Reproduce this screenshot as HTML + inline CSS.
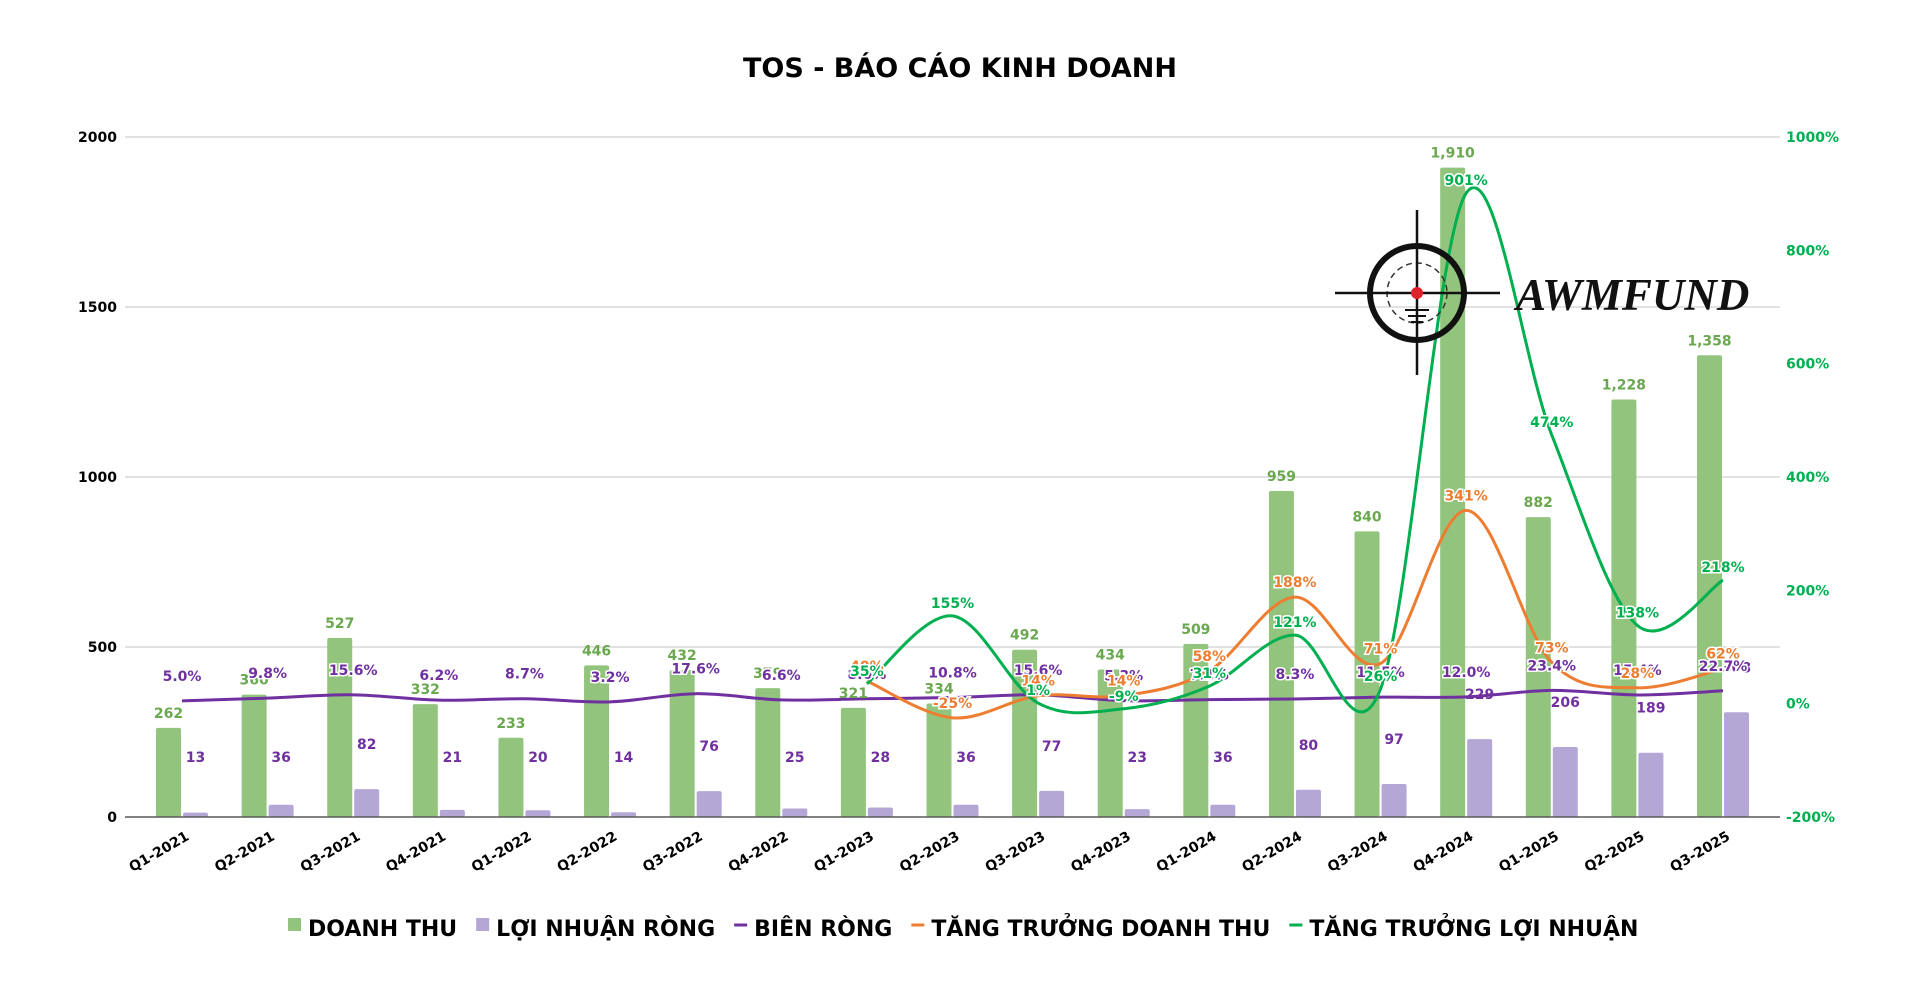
<!DOCTYPE html>
<html><head><meta charset="utf-8">
<style>
html,body{margin:0;padding:0;background:#fff;}
svg{display:block;font-family:"DejaVu Sans","Liberation Sans",sans-serif;}
</style></head>
<body>
<svg id="chart" width="1920" height="991" viewBox="0 0 1920 991" xmlns="http://www.w3.org/2000/svg">
<text x="960" y="77" text-anchor="middle" font-size="27" font-weight="bold" fill="#000">TOS - BÁO CÁO KINH DOANH</text>
<g id="grid"></g>
<g id="bars"></g>
<g id="lines"></g>
<g id="labels"></g>
<g id="axes"></g>
<g>
  <circle cx="1417" cy="293" r="47" fill="none" stroke="#111" stroke-width="6"/>
  <circle cx="1417" cy="293" r="30" fill="none" stroke="#333" stroke-width="1.5" stroke-dasharray="6 4"/>
  <line x1="1335" y1="293" x2="1500" y2="293" stroke="#111" stroke-width="2.5"/>
  <line x1="1417" y1="210" x2="1417" y2="375" stroke="#111" stroke-width="2.5"/>
  <line x1="1405" y1="310" x2="1429" y2="310" stroke="#111" stroke-width="2"/>
  <line x1="1408" y1="316" x2="1426" y2="316" stroke="#111" stroke-width="2"/>
  <line x1="1411" y1="322" x2="1423" y2="322" stroke="#111" stroke-width="2"/>
  <circle cx="1417" cy="293" r="6" fill="#e0202a"/>
  <text x="1516" y="310" font-family="Liberation Serif,serif" font-style="italic" font-weight="bold" font-size="45" fill="#111">AWMFUND</text>
</g>
<g id="legend"></g>
</svg>
<script>
const categories=["Q1-2021","Q2-2021","Q3-2021","Q4-2021","Q1-2022","Q2-2022","Q3-2022","Q4-2022","Q1-2023","Q2-2023","Q3-2023","Q4-2023","Q1-2024","Q2-2024","Q3-2024","Q4-2024","Q1-2025","Q2-2025","Q3-2025"];
const revenue=[262,360,527,332,233,446,432,379,321,334,492,434,509,959,840,1910,882,1228,1358];
const profit=[13,36,82,21,20,14,76,25,28,36,77,23,36,80,97,229,206,189,308];
const margin=[5.0,9.8,15.6,6.2,8.7,3.2,17.6,6.6,8.6,10.8,15.6,5.3,7.1,8.3,11.5,12.0,23.4,15.4,22.7];
const revGrowth=[null,null,null,null,null,null,null,null,40,-25,14,14,58,188,71,341,73,28,62];
const profGrowth=[null,null,null,null,null,null,null,null,35,155,1,-9,31,121,26,901,474,138,218];
const leftTicks=[0,500,1000,1500,2000];
const rightTicks=[-200,0,200,400,600,800,1000];

const NS="http://www.w3.org/2000/svg";
const L=125,R=1780,T=137,B=817;
const step=(R-L-114)/(categories.length-1);
const xC=i=>L+57+step*i;
const yL=v=>B-(v/2000)*(B-T);
const yR=v=>B-((v+200)/1200)*(B-T);
function mk(tag,attrs,parent,text){const e=document.createElementNS(NS,tag);for(const k in attrs)e.setAttribute(k,attrs[k]);if(text!==undefined)e.textContent=text;parent.appendChild(e);return e;}
const grid=document.getElementById('grid'),bars=document.getElementById('bars'),lines=document.getElementById('lines'),labels=document.getElementById('labels'),axes=document.getElementById('axes'),legend=document.getElementById('legend');

leftTicks.forEach(v=>{
  if(v>0){const g=mk('line',{x1:L,x2:R,y1:yL(v),y2:yL(v),stroke:'#d9d9d9','stroke-width':1.5},grid);
  
  }
  const t=mk('text',{x:L-8,y:yL(v)+5,'text-anchor':'end','font-size':14,'font-weight':'bold',fill:'#000'},axes,String(v));
  
  
});
rightTicks.forEach(v=>{
  const t=mk('text',{x:R+6,y:yR(v)+5,'font-size':14,'font-weight':'bold',fill:'#00b050'},axes,v+'%');
  
  
});
const base=mk('line',{x1:L,x2:R,y1:B,y2:B,stroke:'#595959','stroke-width':1.5},axes);



const bw=25;
categories.forEach((c,i)=>{
  const x=xC(i);
  const g=mk('rect',{x:x-13.5-bw/2,y:yL(revenue[i]),width:bw,height:B-yL(revenue[i]),fill:'#93c47d',rx:2},bars);
  
  
  const p=mk('rect',{x:x+13.5-bw/2,y:yL(profit[i]),width:bw,height:B-yL(profit[i]),fill:'#b4a7d6',rx:2},bars);
  
  
  const rl=mk('text',{x:x-13.5,y:yL(revenue[i])-10,'text-anchor':'middle','font-size':14,'font-weight':'bold',fill:'#6aa84f'},labels,revenue[i].toLocaleString('en-US'));
  
  
  const pl=mk('text',{x:x+13.5,y:Math.min(yL(profit[i])-40,B-55),'text-anchor':'middle','font-size':14,'font-weight':'bold',fill:'#7030a0'},labels,String(profit[i]));
  
  
  const xl=mk('text',{x:x+8,y:B+22,'text-anchor':'end','font-size':14,'font-weight':'bold',fill:'#000',transform:`rotate(-30 ${x+8} ${B+22})`},axes,c);
  
  
});

function smooth(pts){
  let d=`M${pts[0][0]},${pts[0][1]}`;
  for(let i=0;i<pts.length-1;i++){
    const p0=pts[i-1]||pts[i],p1=pts[i],p2=pts[i+1],p3=pts[i+2]||p2;
    const c1=[p1[0]+(p2[0]-p0[0])/6,p1[1]+(p2[1]-p0[1])/6];
    const c2=[p2[0]-(p3[0]-p1[0])/6,p2[1]-(p3[1]-p1[1])/6];
    d+=` C${c1[0]},${c1[1]} ${c2[0]},${c2[1]} ${p2[0]},${p2[1]}`;
  }
  return d;
}
function series(arr,color,name,fmt,off){
  const pts=[];arr.forEach((v,i)=>{if(v!==null)pts.push([xC(i),yR(v),v]);});
  const pa=mk('path',{d:smooth(pts),fill:'none',stroke:color,'stroke-width':3},lines);
  
  
  pts.forEach(p=>{
    const t=mk('text',{x:p[0],y:p[1]+off,'text-anchor':'middle','font-size':14,'font-weight':'bold',fill:color,stroke:'#fff','stroke-width':3,'paint-order':'stroke'},labels,fmt(p[2]));
    
    
  });
}
series(margin,'#7030a0','net-margin',v=>v.toFixed(1)+'%',-20);
series(revGrowth,'#ed7d31','revenue-growth',v=>v+'%',-10);
series(profGrowth,'#00b050','profit-growth',v=>v+'%',-8);

const items=[['DOANH THU','#93c47d','box'],['LỢI NHUẬN RÒNG','#b4a7d6','box'],['BIÊN RÒNG','#7030a0','line'],['TĂNG TRƯỞNG DOANH THU','#ed7d31','line'],['TĂNG TRƯỞNG LỢI NHUẬN','#00b050','line']];
let lx=288;const ly=936;
items.forEach(it=>{
  if(it[2]==='box'){const s=mk('rect',{x:lx,y:ly-18,width:13,height:13,fill:it[1]},legend);}
  else{const s=mk('line',{x1:lx,x2:lx+13,y1:ly-11,y2:ly-11,stroke:it[1],'stroke-width':3},legend);}
  const t=mk('text',{x:lx+20,y:ly,'font-size':22,'font-weight':'bold',fill:'#000'},legend,it[0]);
  
  
  lx+=20+t.getComputedTextLength()+19;
});
</script>
</body></html>
